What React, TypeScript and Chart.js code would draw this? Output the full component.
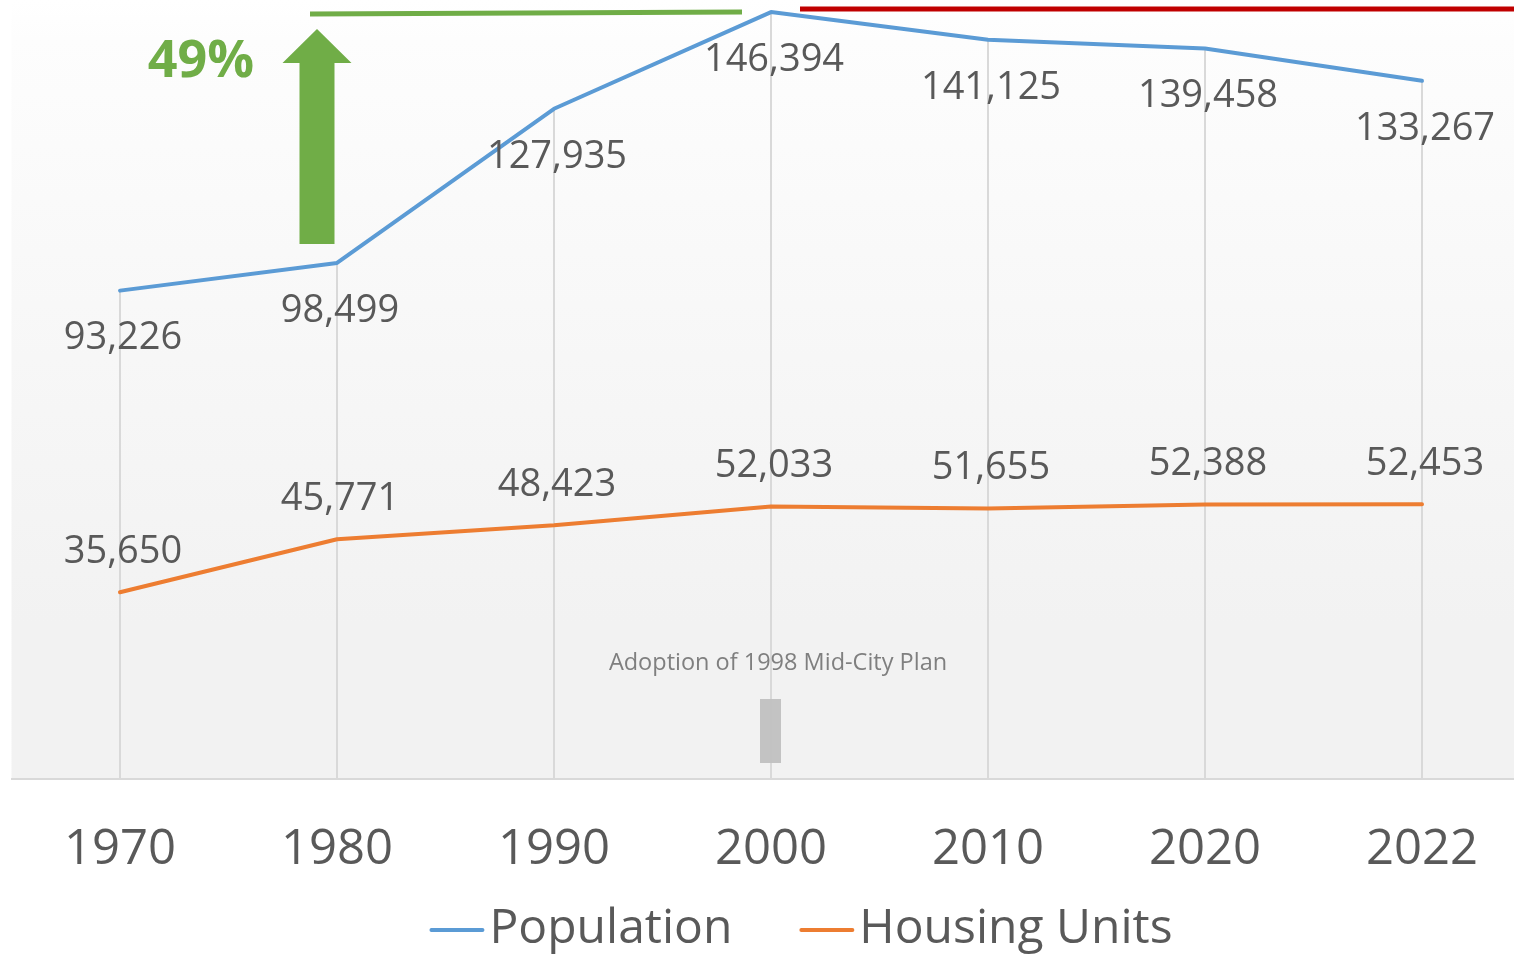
import React, { useEffect, useRef } from "react";
import { Chart, registerables } from "chart.js";

Chart.register(...registerables);

// ---- data ----
const years = ["1970", "1980", "1990", "2000", "2010", "2020", "2022"];
const population = [93226, 98499, 127935, 146394, 141125, 139458, 133267];
const housingUnits = [35650, 45771, 48423, 52033, 51655, 52388, 52453];
const seriesNames = ["Population", "Housing Units"];
const growthLabel = "49%";
const planNote = "Adoption of 1998 Mid-City Plan";

const FONT = "'Open Sans', 'Noto Sans', sans-serif";
const TEXT = "#595959";
const BLUE = "#5b9bd5";
const ORANGE = "#ed7d31";
const GREEN = "#70ad47";
const RED = "#c00000";

const fmt = (v: number) => v.toLocaleString("en-US");

const decorPlugin = {
  id: "decor",
  beforeDraw(chart: any) {
    const { ctx, chartArea: ca } = chart;
    const g = ctx.createLinearGradient(0, ca.top, 0, ca.bottom);
    g.addColorStop(0, "#ffffff");
    g.addColorStop(0.05, "#fdfdfd");
    g.addColorStop(0.8, "#f2f2f2");
    g.addColorStop(1, "#f2f2f2");
    ctx.save();
    ctx.fillStyle = g;
    ctx.fillRect(ca.left, ca.top, chart.width - ca.left, ca.bottom - ca.top);
    ctx.restore();
  },
  beforeDatasetsDraw(chart: any) {
    const { ctx, chartArea: ca } = chart;
    const xs = chart.scales.x;
    const ys = chart.scales.y;
    ctx.save();
    // drop lines
    ctx.strokeStyle = "#d9d9d9";
    ctx.lineWidth = 2;
    const sets = chart.data.datasets;
    for (let i = 0; i < years.length; i++) {
      const top = Math.max(...sets.map((d: any) => d.data[i]));
      const x = xs.getPixelForValue(i);
      ctx.beginPath();
      ctx.moveTo(x, ys.getPixelForValue(top));
      ctx.lineTo(x, ca.bottom);
      ctx.stroke();
    }
    // plan marker
    const x2000 = xs.getPixelForValue(3);
    ctx.fillStyle = "rgba(191,191,191,0.93)";
    ctx.fillRect(x2000 - 11, ca.bottom - 80, 21, 64);
    ctx.fillStyle = "#7f7f7f";
    ctx.font = `23.5px ${FONT}`;
    ctx.textAlign = "center";
    ctx.textBaseline = "middle";
    ctx.fillText(planNote, x2000 + 7, ca.bottom - 116);
    ctx.restore();
  },
  afterDatasetsDraw(chart: any) {
    const { ctx } = chart;
    const xs = chart.scales.x;
    const ys = chart.scales.y;
    ctx.save();
    // data labels
    ctx.font = `38px ${FONT}`;
    ctx.fillStyle = TEXT;
    ctx.textAlign = "center";
    ctx.textBaseline = "middle";
    population.forEach((v, i) => {
      ctx.fillText(fmt(v), xs.getPixelForValue(i) + 3, ys.getPixelForValue(v) + 48);
    });
    housingUnits.forEach((v, i) => {
      ctx.fillText(fmt(v), xs.getPixelForValue(i) + 3, ys.getPixelForValue(v) - 40);
    });

    // growth annotation
    const x1980 = xs.getPixelForValue(1);
    const x2000 = xs.getPixelForValue(3);
    const peakY = ys.getPixelForValue(Math.max(...population));
    const ax = x1980 - 20;
    ctx.fillStyle = GREEN;
    ctx.beginPath();
    ctx.moveTo(ax - 17.5, 244);
    ctx.lineTo(ax - 17.5, 63);
    ctx.lineTo(ax - 34.5, 63);
    ctx.lineTo(ax, 29);
    ctx.lineTo(ax + 34.5, 63);
    ctx.lineTo(ax + 17.5, 63);
    ctx.lineTo(ax + 17.5, 244);
    ctx.closePath();
    ctx.fill();

    ctx.font = `bold 52px ${FONT}`;
    ctx.textAlign = "center";
    ctx.fillText(growthLabel, x1980 - 136, 62);

    ctx.strokeStyle = GREEN;
    ctx.lineWidth = 5;
    ctx.beginPath();
    ctx.moveTo(x1980 - 27, peakY + 2);
    ctx.lineTo(x2000 - 29, peakY);
    ctx.stroke();

    ctx.strokeStyle = RED;
    ctx.lineWidth = 5;
    ctx.beginPath();
    ctx.moveTo(x2000 + 29, peakY - 3);
    ctx.lineTo(chart.width, peakY - 3);
    ctx.stroke();

    // legend
    ctx.font = `48px ${FONT}`;
    ctx.textAlign = "left";
    ctx.textBaseline = "middle";
    const lineLen = 55;
    const textGap = 5;
    const itemGap = 67;
    const sets = chart.data.datasets;
    const widths = sets.map((d: any) => lineLen + textGap + ctx.measureText(d.label).width);
    const total = widths.reduce((a: number, b: number) => a + b, 0) + itemGap * (sets.length - 1);
    let lx = chart.width / 2 - total / 2;
    const ly = 929;
    sets.forEach((d: any, i: number) => {
      ctx.strokeStyle = d.borderColor;
      ctx.lineWidth = 4;
      ctx.lineCap = "round";
      ctx.beginPath();
      ctx.moveTo(lx + 2, ly + 1);
      ctx.lineTo(lx + lineLen - 2, ly + 1);
      ctx.stroke();
      ctx.fillStyle = TEXT;
      ctx.fillText(d.label, lx + lineLen + textGap, ly);
      lx += widths[i] + itemGap;
    });
    ctx.restore();
  },
};

export default function App() {
  const ref = useRef<HTMLCanvasElement | null>(null);

  useEffect(() => {
    if (!ref.current) return;
    const chart = new Chart(ref.current, {
      type: "line",
      data: {
        labels: years,
        datasets: [
          {
            label: seriesNames[0],
            data: population,
            borderColor: BLUE,
            backgroundColor: BLUE,
            borderWidth: 4,
            pointRadius: 0,
            tension: 0,
            borderCapStyle: "round",
            borderJoinStyle: "round",
          },
          {
            label: seriesNames[1],
            data: housingUnits,
            borderColor: ORANGE,
            backgroundColor: ORANGE,
            borderWidth: 4,
            pointRadius: 0,
            tension: 0,
            borderCapStyle: "round",
            borderJoinStyle: "round",
          },
        ],
      },
      options: {
        responsive: false,
        devicePixelRatio: 1,
        animation: false,
        events: [],
        layout: { padding: { left: 11.5, right: 71.5, top: 0, bottom: 35.2 } },
        plugins: {
          legend: { display: false },
          tooltip: { enabled: false },
          title: { display: false },
        },
        scales: {
          x: {
            type: "category",
            offset: true,
            grid: { display: true, drawOnChartArea: false, drawTicks: false, color: "#d9d9d9" },
            border: { display: true, color: "#d9d9d9", width: 2 },
            ticks: {
              color: TEXT,
              font: { family: FONT, size: 49 },
              padding: 42,
              maxRotation: 0,
              autoSkip: false,
            },
          },
          y: {
            display: false,
            min: 0,
            max: 148700,
          },
        },
      },
      plugins: [decorPlugin],
    });
    return () => chart.destroy();
  }, []);

  return (
    <div
      style={{
        position: "absolute",
        left: 0,
        top: 0,
        width: 1514,
        height: 957,
        overflow: "hidden",
        background: "#ffffff",
      }}
    >
      <canvas ref={ref} width={1602} height={957} style={{ display: "block" }} />
    </div>
  );
}
